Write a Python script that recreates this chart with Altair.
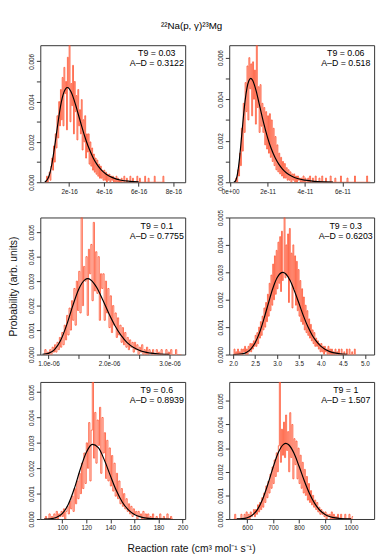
import altair as alt
import pandas as pd

FONT = "Liberation Sans"

TITLE = "²²Na(p, γ)²³Mg"
X_TITLE = "Reaction rate (cm³ mol⁻¹ s⁻¹)"
Y_TITLE = "Probability (arb. units)"

T9 = ["0.03", "0.06", "0.1", "0.3", "0.6", "1"]
AD = ["0.3122", "0.518", "0.7755", "0.6203", "0.8939", "1.507"]

# ---------------- panel 1 (units of 1e-16), histogram heights in 1e-4 ----------------
p1_start, p1_step = 0.60, 0.05
p1_hist = [0, 0, 3, 0, 2, 5, 1, 8, 12, 6,
           18, 10, 24, 17, 33, 22, 40, 28, 46, 31,
           52, 28, 57, 44, 50, 26, 62, 47, 68, 30,
           49, 38, 58, 24, 50, 35, 43, 21, 46, 28,
           36, 24, 41, 16, 31, 20, 33, 12, 24, 15,
           24, 9, 20, 8, 17, 6, 14, 5, 12, 4,
           11, 3, 9, 2, 8, 2, 6, 1, 6, 1,
           5, 0, 4, 1, 4, 0, 3, 1, 3, 0,
           2, 0, 3, 0, 2, 0, 1, 0,
           2, 0, 0, 3, 0, 0, 2, 0, 0, 0, 3, 0, 0, 2, 0, 0, 0, 0, 3, 0,
           0, 2, 0, 0, 0, 0, 0, 3, 0, 0, 0, 2, 0, 0, 0, 0, 0, 0, 3, 0,
           0, 0, 0, 0, 0, 0, 0, 0, 3, 0]
p1_fit_x = [0.6, 0.7, 0.8, 0.9, 1.0, 1.1, 1.2, 1.3, 1.4, 1.5, 1.6, 1.7, 1.8, 1.9, 2.0,
            2.1, 2.2, 2.3, 2.4, 2.5, 2.6, 2.7, 2.8, 2.9, 3.0, 3.2, 3.4, 3.6, 3.8, 4.0,
            4.2, 4.5, 5.0, 5.5, 6.0]
p1_fit_y = [0.2, 0.8, 2.2, 4.8, 8.8, 14, 19.8, 26, 32, 37.5, 41.7, 44.7, 46.4, 47, 46.5,
            45, 43, 40.4, 37.6, 34.5, 31.5, 28.5, 25.5, 22.7, 20.1, 15.6, 11.8, 8.9, 6.6, 4.9,
            3.6, 2.3, 1.0, 0.47, 0.2]

# ---------------- panel 2 (units of 1e-11) ----------------
p2_start, p2_step = 0.25, 0.05
p2_hist = [0, 2, 0, 6, 3, 14, 8, 26, 15, 38,
           24, 48, 34, 56, 30, 60, 45, 57, 32, 58,
           40, 54, 28, 66, 36, 46, 24, 47, 27, 38,
           24, 36, 18, 34, 16, 32, 14, 33, 12, 30,
           10, 26, 8, 22, 6, 18, 5, 14, 4, 12,
           3, 10, 2, 9, 2, 7, 1, 6, 1, 5,
           0, 4, 1, 4, 0, 3, 0, 3, 1, 2,
           0, 2, 0, 3, 0,
           2, 0, 0, 2, 0, 3, 0, 0, 2, 0, 0, 3, 0, 0, 0, 2, 0, 0, 3, 0,
           0, 0, 2, 0, 0, 0, 0, 3, 0, 0, 0, 0, 2, 0, 0, 0, 0, 0, 3, 0,
           0, 0, 0, 0, 0, 2, 0, 0, 0, 0, 0, 0, 0, 3, 0, 0, 0, 0, 0, 0,
           0, 0, 0, 0, 0, 0, 3, 0, 0, 0]
p2_fit_x = [0.2, 0.3, 0.4, 0.5, 0.6, 0.7, 0.8, 0.9, 1.0, 1.1, 1.2, 1.3, 1.4, 1.5, 1.6,
            1.8, 2.0, 2.2, 2.4, 2.6, 2.8, 3.0, 3.3, 3.6, 4.0, 4.5, 5.0, 5.5]
p2_fit_y = [0.05, 0.9, 4.5, 11.5, 21, 30.8, 39.4, 45.5, 48.9, 50, 49.1, 46.8, 43.6, 39.8, 35.9,
            28.2, 21.5, 16.1, 11.9, 8.7, 6.3, 4.6, 2.9, 1.8, 1.0, 0.46, 0.22, 0.1]

# ---------------- panel 3 (units of 1e-6) ----------------
p3_start, p3_step = 0.92, 0.02
p3_hist = [0, 2, 0, 1,
           0, 2, 0, 3, 1, 4, 1, 5, 2, 7,
           3, 9, 4, 12, 6, 16, 8, 19, 10, 22,
           14, 27, 12, 30, 18, 34, 17, 56, 20, 36,
           30, 40, 16, 43, 33, 45, 22, 54, 26, 42,
           25, 40, 14, 33, 27, 33, 14, 30, 17, 27,
           11, 24, 9, 20, 12, 17, 7, 15, 8, 12,
           5, 11, 4, 9, 3, 7, 2, 6, 3, 5,
           1, 5, 2, 4, 0, 3, 1, 4, 0, 2,
           0, 3, 0, 2, 1, 0, 2, 0, 0, 2,
           0, 1, 0, 2, 0, 0, 0, 2, 0, 1,
           0, 2, 0, 0, 0, 2, 0, 0, 0, 0]
p3_fit_x = [0.9, 1.0, 1.1, 1.2, 1.3, 1.4, 1.5, 1.6, 1.65, 1.7, 1.8, 1.9, 2.0, 2.1, 2.2,
            2.3, 2.4, 2.5, 2.6, 2.8, 3.0]
p3_fit_y = [0.07, 0.47, 2.0, 5.7, 12.0, 19.8, 26.7, 30.5, 31, 30.5, 27.3, 22.2, 16.7, 11.8, 7.8,
            4.9, 3.0, 1.75, 0.99, 0.29, 0.08]

# ---------------- panel 4 ----------------
p4_start, p4_step = 2.00, 0.02
p4_hist = [0, 2, 0, 1, 0, 2, 0, 1, 0, 2,
           0, 2, 1, 3, 0, 2, 0, 3, 1, 4,
           1, 4, 2, 5, 3, 7, 3, 8, 4, 10,
           6, 12, 7, 14, 9, 17, 10, 19, 12, 22,
           14, 26, 16, 29, 18, 33, 20, 36, 22, 38,
           24, 41, 26, 43, 23, 45, 27, 30, 50, 28,
           40, 29, 44, 19, 46, 27, 37, 17, 40, 24,
           36, 18, 34, 16, 31, 14, 27, 12, 24, 11,
           21, 9, 18, 8, 16, 7, 13, 6, 11, 5,
           9, 4, 8, 3, 6, 3, 5, 2, 4, 1,
           4, 1, 3, 0, 3, 1, 2, 0, 3, 0,
           2, 0, 2, 0, 1, 0, 2, 0, 1, 0,
           2, 0, 0, 2, 0, 0, 1, 0, 0, 2,
           0, 0, 2, 0, 0, 1, 0, 0, 2, 0]
p4_fit_x = [2.0, 2.2, 2.3, 2.4, 2.5, 2.6, 2.7, 2.8, 2.9, 3.0, 3.1, 3.13, 3.2, 3.3, 3.4,
            3.5, 3.6, 3.7, 3.8, 3.9, 4.0, 4.2, 4.4, 4.6]
p4_fit_y = [0.01, 0.25, 0.78, 2.0, 4.3, 8.0, 13.0, 18.6, 24.0, 28.0, 29.9, 30, 29.4, 26.9, 23.0,
            18.6, 14.1, 10.2, 7.05, 4.7, 3.0, 1.07, 0.35, 0.1]

# ---------------- panel 5 ----------------
p5_start, p5_step = 85, 1
p5_hist = [0, 1, 0, 0, 2, 0, 1, 0, 2, 0,
           3, 0, 2, 1, 3, 1, 4, 0, 3, 5,
           2, 7, 4, 9, 3, 12, 6, 15, 8, 18,
           10, 22, 12, 26, 14, 30, 20, 38, 15, 35,
           54, 24, 42, 22, 39, 29, 44, 18, 40, 26,
           34, 16, 31, 15, 28, 13, 25, 11, 22, 9,
           18, 8, 15, 6, 12, 5, 10, 4, 8, 3,
           6, 2, 5, 1, 4, 2, 3, 0, 3, 1,
           2, 0, 3, 0, 2, 0, 2, 0, 1, 0,
           2, 0, 0, 1, 0, 0, 2, 0, 0, 1,
           0, 0, 2, 0, 0, 1, 0]
p5_fit_x = [85, 90, 95, 100, 105, 110, 115, 120, 125, 130, 135, 140, 145, 150, 155,
            160, 165, 170, 180, 190]
p5_fit_y = [0.01, 0.11, 0.58, 2.1, 5.7, 11.9, 19.6, 26.2, 29.4, 28.1, 23.3, 17.1, 11.2, 6.6, 3.6,
            1.8, 0.82, 0.35, 0.06, 0.01]

# ---------------- panel 6 ----------------
p6_start, p6_step = 548, 4
p6_hist = [0, 2, 0, 0, 0, 0, 0, 2, 0, 0,
           2, 0, 3, 0, 2, 0, 3, 1, 2, 4,
           1, 4, 2, 6, 3, 7, 4, 9, 5, 11,
           7, 14, 9, 16, 11, 19, 13, 22, 15, 25,
           18, 28, 20, 31, 58, 24, 38, 27, 41, 26,
           44, 29, 37, 20, 45, 26, 40, 17, 34, 23,
           33, 17, 30, 15, 27, 13, 24, 11, 21, 10,
           18, 8, 15, 7, 12, 6, 10, 5, 8, 4,
           7, 3, 5, 2, 4, 2, 3, 1, 3, 0,
           2, 1, 2, 0, 3, 0, 2, 0, 1, 0,
           2, 0, 0, 2, 0, 0, 0, 2, 0, 0,
           0, 2, 0, 0, 1]
p6_fit_x = [560, 580, 600, 620, 640, 660, 680, 700, 720, 740, 749, 760, 780, 800, 820,
            840, 860, 880, 900, 920, 940, 960, 1000]
p6_fit_y = [0.03, 0.14, 0.55, 1.66, 4.1, 8.5, 14.8, 21.9, 28.1, 31.6, 32, 31.4, 27.9, 22.3, 16.2,
            10.8, 6.6, 3.7, 1.96, 0.97, 0.45, 0.2, 0.03]

# axis domains / ticks
X_DOMAINS = [[0.34, 8.68], [-0.05, 7.70], [0.865, 3.26], [1.91, 5.21], [81.8, 202.2], [531, 1089]]
X_TICKS = [[2, 4, 6, 8], [0, 2, 4, 6], [1.0, 1.5, 2.0, 2.5, 3.0],
           [2.0, 2.5, 3.0, 3.5, 4.0, 4.5, 5.0], [100, 120, 140, 160, 180, 200],
           [600, 700, 800, 900, 1000]]
X_LABEL_EXPR = [
    "datum.value + 'e-16'",
    "datum.value == 0 ? '0e+00' : datum.value + 'e-11'",
    "round(datum.value * 10) % 10 == 0 ? format(datum.value, '.1f') + 'e-06' : ''",
    "format(datum.value, '.1f')",
    "format(datum.value, 'd')",
    "format(datum.value, 'd')",
]
Y_TICKS_6 = [0, 0.001, 0.002, 0.003, 0.004, 0.005, 0.006]
Y_TICKS_5 = [0, 0.001, 0.002, 0.003, 0.004, 0.005]
Y_EVEN_EXPR = "round(datum.value * 1000) % 2 == 0 ? format(datum.value, '.3f') : ''"
Y_ALL_EXPR = "format(datum.value, '.3f')"

W, H = 148, 140
HIST_COLOR = "#ff5533"


def panel(start, step, hist, fx, fy, idx, yticks, yexpr, ytitle=False):
    xs = [start + i * step for i in range(len(hist) + 1)]
    ys = [v / 1e4 for v in hist] + [hist[-1] / 1e4]
    hdf = pd.DataFrame({"x": xs, "y": ys})
    fdf = pd.DataFrame({"x": fx, "y": [v / 1e4 for v in fy]})
    ymax = max(hist) / 1e4

    xscale = alt.Scale(domain=X_DOMAINS[idx], nice=False, zero=False)
    yscale = alt.Scale(domain=[0, ymax], nice=False, zero=False)

    xaxis = alt.Axis(values=X_TICKS[idx], labelExpr=X_LABEL_EXPR[idx], labelFlush=False,
                     labelOverlap=False, title=None)
    yaxis_kw = dict(values=yticks, labelExpr=yexpr, labelAngle=270, labelAlign="center",
                    labelBaseline="bottom", labelFlush=False, labelOverlap=False)
    if ytitle:
        yaxis_kw.update(title=Y_TITLE, titlePadding=10)
    else:
        yaxis_kw.update(title=None)
    yaxis = alt.Axis(**yaxis_kw)

    hist_layer = alt.Chart(hdf).mark_line(
        interpolate="step-after", color=HIST_COLOR, strokeWidth=1, opacity=0.85, clip=True
    ).encode(
        x=alt.X("x:Q", scale=xscale, axis=xaxis),
        y=alt.Y("y:Q", scale=yscale, axis=yaxis),
    )
    fit_layer = alt.Chart(fdf).mark_line(
        interpolate="monotone", color="black", strokeWidth=1.2, clip=True
    ).encode(x=alt.X("x:Q", scale=xscale, axis=xaxis),
             y=alt.Y("y:Q", scale=yscale, axis=yaxis))

    tdf = pd.DataFrame({"label": [f"T9 = {T9[idx]}\nA\u2013D = {AD[idx]}"]})
    text_layer = alt.Chart(tdf).mark_text(
        font=FONT, fontSize=9, align="center", baseline="top", lineBreak="\n",
        lineHeight=10, color="black"
    ).encode(x=alt.value(119), y=alt.value(4.5), text="label:N")

    return alt.layer(hist_layer, fit_layer, text_layer).properties(width=W, height=H)


c1 = panel(p1_start, p1_step, p1_hist, p1_fit_x, p1_fit_y, 0, Y_TICKS_6, Y_EVEN_EXPR)
c2 = panel(p2_start, p2_step, p2_hist, p2_fit_x, p2_fit_y, 1, Y_TICKS_6, Y_EVEN_EXPR)
c3 = panel(p3_start, p3_step, p3_hist, p3_fit_x, p3_fit_y, 2, Y_TICKS_5, Y_ALL_EXPR, ytitle=True)
c4 = panel(p4_start, p4_step, p4_hist, p4_fit_x, p4_fit_y, 3, Y_TICKS_5, Y_ALL_EXPR)
c5 = panel(p5_start, p5_step, p5_hist, p5_fit_x, p5_fit_y, 4, Y_TICKS_5, Y_ALL_EXPR)
c6 = panel(p6_start, p6_step, p6_hist, p6_fit_x, p6_fit_y, 5, Y_TICKS_5, Y_ALL_EXPR)

grid = alt.concat(
    c1, c2, c3, c4, c5, c6, columns=2,
    spacing={"row": 14, "column": 28},
    title=alt.TitleParams(X_TITLE, orient="bottom", font=FONT, fontSize=10.5,
                          fontWeight="normal", color="#111111", anchor="middle", offset=13),
)

chart = alt.vconcat(
    grid,
    title=alt.TitleParams(TITLE, font=FONT, fontSize=10, fontWeight="normal", color="black",
                          anchor="middle", offset=14),
).properties(
    padding={"left": 0, "top": 7, "right": 5, "bottom": 5}
).configure_view(
    stroke="#333333", strokeWidth=1
).configure_axis(
    domain=False, grid=False, tickColor="#333333", tickSize=4, tickWidth=1,
    labelFont=FONT, labelFontSize=6.5, labelColor="#222222", labelPadding=2,
    labelOverlap=False, labelFlush=False,
    titleFont=FONT, titleFontSize=10.5, titleFontWeight="normal", titleColor="#111111",
)

chart.save("out.html", embed_options={"renderer": "svg", "actions": False})
